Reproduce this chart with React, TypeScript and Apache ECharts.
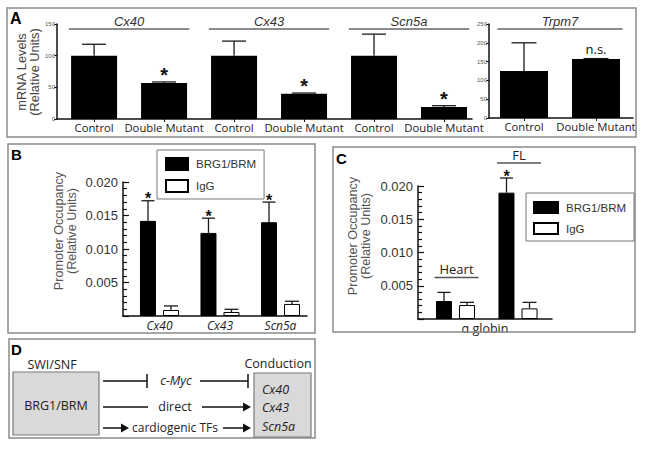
import React, { useEffect, useRef } from "react";
import * as echarts from "echarts";

// ---------- Panel A data ----------
const aCats = ["Control", "Double Mutant", "Control", "Double Mutant", "Control", "Double Mutant"];
const aMeans = [100, 57, 100, 40, 100, 19];
const aErrs = [118, 58.5, 123, 41, 134, 21];
const aMarks = ["", "*", "", "*", "", "*"];
const aGroups = ["Cx40", "Cx43", "Scn5a"];
const tCats = ["Control", "Double Mutant"];
const tMeans = [125, 157];
const tErrs = [200, 158];
const tMarks = ["", "n.s."];
const tGroups = ["Trpm7"];

// ---------- Panel B data ----------
const bCats = ["Cx40", "Cx43", "Scn5a"];
const bBrg = [0.0142, 0.0124, 0.014];
const bBrgErr = [0.0172, 0.0146, 0.017];
const bIgg = [0.0009, 0.0006, 0.0018];
const bIggErr = [0.0015, 0.001, 0.0022];
const bMarks = ["*", "*", "*"];

// ---------- Panel C data ----------
const cGroups = ["Heart", "FL"];
const cBrg = [0.0027, 0.019];
const cBrgErr = [0.004, 0.0212];
const cIgg = [0.0021, 0.0016];
const cIggErr = [0.0025, 0.0025];
const cMarks = ["", "*"];

const seriesNames = ["BRG1/BRM", "IgG"];

const FA = '"Liberation Sans", Arial, sans-serif';
const FC = '"Open Sans", sans-serif';

function txt(x: number, y: number, text: string, font: string, o: any = {}) {
  return {
    type: "text",
    x,
    y,
    rotation: o.rot || 0,
    silent: true,
    z: 20,
    style: {
      text,
      font,
      fill: o.fill || "#222",
      textAlign: o.align || "center",
      textVerticalAlign: o.va || "middle",
      align: o.align || "center",
      verticalAlign: o.va || "middle",
      lineHeight: o.lh,
    },
  };
}
function ln(x1: number, y1: number, x2: number, y2: number, stroke = "#111", w = 1.5) {
  return { type: "line", silent: true, z: 20, shape: { x1, y1, x2, y2 }, style: { stroke, lineWidth: w } };
}
function box(x: number, y: number, w: number, h: number, fill = "none", stroke = "#8a8a8a", lw = 1.5) {
  return { type: "rect", silent: true, z: 1, shape: { x, y, width: w, height: h }, style: { fill, stroke, lineWidth: lw } };
}
function head(tipX: number, y: number) {
  return {
    type: "polygon",
    silent: true,
    z: 20,
    shape: { points: [[tipX, y], [tipX - 8, y - 4.5], [tipX - 8, y + 4.5]] },
    style: { fill: "#111" },
  };
}

function errSeries(ai: number, means: number[], errs: number[], marks: string[], offset: number, capW: number, markFont: (m: string) => string, markGap: (m: string) => number) {
  return {
    type: "custom",
    xAxisIndex: ai,
    yAxisIndex: ai,
    z: 5,
    clip: false,
    silent: true,
    data: means.map((m, i) => [i, m, errs[i]]),
    renderItem: (params: any, api: any) => {
      const i = params.dataIndex;
      const p0 = api.coord([api.value(0), api.value(1)]);
      const p1 = api.coord([api.value(0), api.value(2)]);
      const cx = p0[0] + offset;
      const children: any[] = [
        { type: "line", shape: { x1: cx, y1: p0[1], x2: cx, y2: p1[1] }, style: { stroke: "#1a1a1a", lineWidth: 1.3 } },
        { type: "line", shape: { x1: cx - capW / 2, y1: p1[1], x2: cx + capW / 2, y2: p1[1] }, style: { stroke: "#1a1a1a", lineWidth: 1.3 } },
      ];
      const m = marks[i];
      if (m) {
        children.push({
          type: "text",
          x: cx,
          y: p1[1] - markGap(m),
          style: { text: m, font: markFont(m), fill: "#111", textAlign: "center", textVerticalAlign: "middle", align: "center", verticalAlign: "middle" },
        });
      }
      return { type: "group", children };
    },
  };
}

function groupSeries(ai: number, names: string[], ymax: number, frac: number) {
  return {
    type: "custom",
    xAxisIndex: ai,
    yAxisIndex: ai,
    z: 5,
    clip: false,
    silent: true,
    data: names.map((_, k) => [2 * k, 2 * k + 1]),
    renderItem: (params: any, api: any) => {
      const a = api.coord([api.value(0), ymax]);
      const b = api.coord([api.value(1), ymax]);
      const band = api.size([1, 0])[0];
      const x1 = a[0] - frac * band;
      const x2 = b[0] + frac * band;
      return {
        type: "group",
        children: [
          { type: "line", shape: { x1, y1: a[1] + 5, x2, y2: a[1] + 5 }, style: { stroke: "#666", lineWidth: 1.5 } },
          {
            type: "text",
            x: (x1 + x2) / 2,
            y: a[1] - 3,
            style: { text: names[params.dataIndex], font: `italic 13px ${FA}`, fill: "#333", textAlign: "center", textVerticalAlign: "middle", align: "center", verticalAlign: "middle" },
          },
        ],
      };
    },
  };
}

function cLabelSeries() {
  return {
    type: "custom",
    xAxisIndex: 3,
    yAxisIndex: 3,
    z: 5,
    clip: false,
    silent: true,
    data: cGroups.map((_, i) => [i, Math.max(cBrgErr[i], cIggErr[i])]),
    renderItem: (params: any, api: any) => {
      const p = api.coord([api.value(0), api.value(1)]);
      const y = p[1] - 15;
      return {
        type: "group",
        children: [
          { type: "line", shape: { x1: p[0] - 21, y1: y, x2: p[0] + 23, y2: y }, style: { stroke: "#555", lineWidth: 1.5 } },
          {
            type: "text",
            x: p[0] + 1,
            y: y - 8,
            style: { text: cGroups[params.dataIndex], font: `13px ${FC}`, fill: "#222", textAlign: "center", textVerticalAlign: "middle", align: "center", verticalAlign: "middle" },
          },
        ],
      };
    },
  };
}

const aMarkFont = (m: string) => (m === "*" ? `bold 20px ${FA}` : `13px ${FC}`);
const aMarkGap = (m: string) => (m === "*" ? 7 : 10);
const bMarkFont = () => `bold 16px ${FA}`;
const bMarkGap = () => 2;

export default function App() {
  const ref = useRef<HTMLDivElement>(null);
  useEffect(() => {
    if (!ref.current) return;
    const chart = echarts.init(ref.current, null, { renderer: "svg" });

    const aYAxis = (max: number) => ({
      type: "value",
      min: 0,
      max,
      interval: 50,
      axisLine: { show: true, onZero: false, lineStyle: { color: "#111", width: 1.5 } },
      axisTick: { show: true, length: 3, lineStyle: { color: "#111" } },
      axisLabel: { fontSize: 6, color: "#555", margin: 2, fontFamily: FA },
      splitLine: { show: false },
    });
    const aXAxis = (min: number, max: number, cats: string[]) => ({
      type: "value",
      min,
      max,
      axisLine: { show: true, onZero: false, lineStyle: { color: "#111", width: 1.5 } },
      axisTick: { show: true, length: 3, customValues: cats.map((_, i) => i), lineStyle: { color: "#111" } },
      axisLabel: {
        customValues: cats.map((_, i) => i),
        formatter: (v: number) => cats[Math.round(v)] ?? "",
        fontSize: 11.3,
        fontFamily: FC,
        color: "#222",
        margin: 3,
      },
      splitLine: { show: false },
    });
    const pYAxis = () => ({
      type: "value",
      min: 0,
      max: 0.02,
      interval: 0.005,
      axisLine: { show: true, onZero: false, lineStyle: { color: "#111", width: 1.5 } },
      axisTick: { show: true, inside: true, length: 6, lineStyle: { color: "#111", width: 1.2 } },
      minorTick: { show: true, splitNumber: 5, length: 4, lineStyle: { color: "#111", width: 1.2 } },
      axisLabel: {
        formatter: (v: number) => (v < 1e-9 ? "" : v.toFixed(3)),
        fontSize: 13,
        fontFamily: FA,
        color: "#333",
        margin: 5,
      },
      splitLine: { show: false },
      minorSplitLine: { show: false },
    });

    const legendCommon = {
      orient: "vertical",
      data: seriesNames,
      icon: "rect",
      itemWidth: 22,
      itemHeight: 12,
      itemGap: 8,
      selectedMode: false,
      borderColor: "#777",
      borderWidth: 1,
      textStyle: { fontSize: 11.5, fontFamily: FA, color: "#333", padding: [0, 0, 0, 3] },
    };

    const graphic: any[] = [
      // panel frames
      box(7, 8, 629, 129),
      box(8, 144, 307, 189),
      box(333, 147, 302, 185),
      box(9, 339, 306, 99),
      // panel letters
      txt(10, 18, "A", `bold 16px ${FA}`, { align: "left", fill: "#000" }),
      txt(11, 154, "B", `bold 15px ${FA}`, { align: "left", fill: "#000" }),
      txt(336, 158, "C", `bold 15px ${FA}`, { align: "left", fill: "#000" }),
      txt(11, 349, "D", `bold 15px ${FA}`, { align: "left", fill: "#000" }),
      // y-axis titles
      txt(28, 72, "mRNA Levels\n(Relative Units)", `12.8px ${FA}`, { rot: Math.PI / 2, fill: "#444", lh: 13 }),
      txt(65, 231, "Promoter Occupancy\n(Relative Units)", `12.6px ${FA}`, { rot: Math.PI / 2, fill: "#555", lh: 13 }),
      txt(359, 236, "Promoter Occupancy\n(Relative Units)", `12.6px ${FA}`, { rot: Math.PI / 2, fill: "#555", lh: 13 }),
      // panel D
      txt(52, 364, "SWI/SNF", `12.5px ${FC}`),
      box(13, 372, 86, 63, "#d9d9d9", "#7a7a7a", 1.2),
      txt(56, 405, "BRG1/BRM", `12.5px ${FC}`),
      txt(278, 363, "Conduction", `12.5px ${FC}`),
      box(254, 373, 57, 64, "#d9d9d9", "#7a7a7a", 1.2),
      txt(262, 389, "Cx40", `italic 12.5px ${FC}`, { align: "left" }),
      txt(262, 407, "Cx43", `italic 12.5px ${FC}`, { align: "left" }),
      txt(262, 426, "Scn5a", `italic 12.5px ${FC}`, { align: "left" }),
      // row 1 (inhibition)
      ln(103, 381, 147, 381),
      ln(147, 374, 147, 388),
      txt(176, 380, "c-Myc", `italic 12.5px ${FC}`),
      ln(200, 381, 248, 381),
      ln(248, 374, 248, 388),
      // row 2
      ln(103, 407, 148, 407),
      txt(175, 406, "direct", `12.5px ${FC}`),
      ln(202, 407, 244, 407),
      head(251, 407),
      // row 3
      ln(103, 428, 122, 428),
      head(129, 428),
      txt(175, 427, "cardiogenic TFs", `12px ${FC}`),
      ln(223, 428, 244, 428),
      head(251, 428),
    ];

    const option: any = {
      animation: false,
      backgroundColor: "#fff",
      grid: [
        { left: 57, top: 24, width: 415, height: 95 },
        { left: 489, top: 24, width: 144, height: 94 },
        { left: 123, top: 182, width: 184, height: 134 },
        { left: 418, top: 186, width: 134, height: 133 },
      ],
      xAxis: [
        { ...aXAxis(-0.53, 5.4, aCats), gridIndex: 0 },
        { ...aXAxis(-0.486, 1.514, tCats), gridIndex: 1 },
        {
          type: "value",
          gridIndex: 2,
          min: -0.603,
          max: 2.438,
          axisLine: { show: true, onZero: false, lineStyle: { color: "#111", width: 1.5 } },
          axisTick: { show: false },
          axisLabel: {
            customValues: bCats.map((_, i) => i),
            formatter: (v: number) => bCats[Math.round(v)] ?? "",
            fontSize: 12,
            fontStyle: "italic",
            fontFamily: FC,
            color: "#222",
            margin: 3,
          },
          splitLine: { show: false },
        },
        {
          type: "value",
          gridIndex: 3,
          min: -0.6,
          max: 1.544,
          name: "α globin",
          nameLocation: "middle",
          nameGap: 3,
          nameTextStyle: { fontSize: 12.5, fontFamily: FC, color: "#222", verticalAlign: "top" },
          axisLine: { show: true, onZero: false, lineStyle: { color: "#111", width: 1.5 } },
          axisTick: { show: false },
          axisLabel: { show: false },
          splitLine: { show: false },
        },
      ],
      yAxis: [
        { ...aYAxis(150), gridIndex: 0 },
        { ...aYAxis(250), gridIndex: 1 },
        { ...pYAxis(), gridIndex: 2 },
        { ...pYAxis(), gridIndex: 3 },
      ],
      legend: [
        { ...legendCommon, left: 157, top: 150, padding: [7, 8, 6, 8] },
        { ...legendCommon, left: 526, top: 193, itemWidth: 24, itemHeight: 11, padding: [8, 8, 6, 7] },
      ],
      graphic,
      series: [
        // Panel A
        { type: "bar", name: "A", xAxisIndex: 0, yAxisIndex: 0, barWidth: 46, data: aMeans.map((v, i) => [i, v]), itemStyle: { color: "#000" }, silent: true },
        errSeries(0, aMeans, aErrs, aMarks, 0, 24, aMarkFont, aMarkGap),
        groupSeries(0, aGroups, 150, 0.36),
        { type: "bar", name: "T", xAxisIndex: 1, yAxisIndex: 1, barWidth: 48, data: tMeans.map((v, i) => [i, v]), itemStyle: { color: "#000" }, silent: true },
        errSeries(1, tMeans, tErrs, tMarks, 0, 25, aMarkFont, aMarkGap),
        groupSeries(1, tGroups, 250, 0.37),
        // Panel B
        { type: "bar", name: seriesNames[0], xAxisIndex: 2, yAxisIndex: 2, barWidth: 16, barGap: "44%", data: bBrg.map((v, i) => [i, v]), itemStyle: { color: "#000", borderColor: "#000", borderWidth: 1 }, silent: true },
        { type: "bar", name: seriesNames[1], xAxisIndex: 2, yAxisIndex: 2, barWidth: 16, barGap: "44%", data: bIgg.map((v, i) => [i, v]), itemStyle: { color: "#fff", borderColor: "#000", borderWidth: 1 }, silent: true },
        errSeries(2, bBrg, bBrgErr, bMarks, -11.5, 13, bMarkFont, bMarkGap),
        errSeries(2, bIgg, bIggErr, ["", "", ""], 11.5, 14, bMarkFont, bMarkGap),
        // Panel C
        { type: "bar", name: seriesNames[0], xAxisIndex: 3, yAxisIndex: 3, barWidth: 16, barGap: "44%", data: cBrg.map((v, i) => [i, v]), itemStyle: { color: "#000", borderColor: "#000", borderWidth: 1 }, silent: true },
        { type: "bar", name: seriesNames[1], xAxisIndex: 3, yAxisIndex: 3, barWidth: 16, barGap: "44%", data: cIgg.map((v, i) => [i, v]), itemStyle: { color: "#fff", borderColor: "#000", borderWidth: 1 }, silent: true },
        errSeries(3, cBrg, cBrgErr, cMarks, -11.5, 13, bMarkFont, bMarkGap),
        errSeries(3, cIgg, cIggErr, ["", ""], 11.5, 14, bMarkFont, bMarkGap),
        cLabelSeries(),
      ],
    };
    chart.setOption(option);
    return () => chart.dispose();
  }, []);
  return <div ref={ref} style={{ position: "fixed", left: 0, top: 0, width: 645, height: 449 }} />;
}
